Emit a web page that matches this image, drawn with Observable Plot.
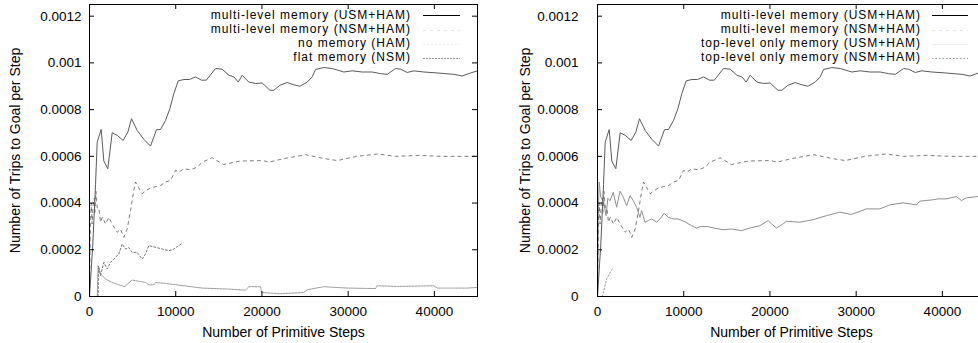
<!DOCTYPE html>
<html><head><meta charset="utf-8">
<script src="https://cdn.jsdelivr.net/npm/d3@7"></script>
<script src="https://cdn.jsdelivr.net/npm/@observablehq/plot@0.6"></script>
<style>
html,body{margin:0;padding:0;background:#fff;overflow:hidden;}
#wrap{position:relative;width:978px;height:343px;overflow:hidden;font-family:"Liberation Sans",Arial,sans-serif;}
.panel{position:absolute;top:0;}
.panel svg{max-width:none !important;display:block;}
.lg{position:absolute;font-size:12px;line-height:13px;letter-spacing:1px;white-space:nowrap;text-align:right;color:#000;}
.sw{position:absolute;}
</style></head>
<body><div id="wrap"></div>
<script>
// ---- tick values and labels ----
const xTicks = [0, 10000, 20000, 30000, 40000];
const yTicks = [0, 0.0002, 0.0004, 0.0006, 0.0008, 0.001, 0.0012];
const yTickLabels = ["0", "0.0002", "0.0004", "0.0006", "0.0008", "0.001", "0.0012"];
const xTitle = "Number of Primitive Steps";
const yTitle = "Number of Trips to Goal per Step";

// ---- series: [primitive steps, trips to goal per step] ----
const multiUsmHam = [[0,0],[380,0.00022],[700,0.00048],[890,0.00066],[1357,0.000715],[1660,0.00058],[2125,0.000547],[2630,0.000701],[3210,0.00069],[3900,0.000668],[4450,0.000704],[4870,0.000761],[5530,0.000711],[6300,0.000673],[7080,0.000644],[7770,0.000714],[8240,0.000715],[8820,0.000754],[9320,0.000804],[9790,0.000869],[10290,0.000923],[10940,0.000929],[11600,0.000929],[12300,0.00094],[13000,0.000926],[13540,0.000926],[14620,0.000976],[15390,0.000973],[16170,0.000947],[16750,0.00094],[17250,0.000918],[17710,0.000947],[18480,0.000918],[19260,0.000912],[20030,0.000914],[20920,0.000883],[21380,0.000883],[22080,0.000904],[22930,0.000916],[23630,0.000907],[24400,0.0009],[25250,0.000918],[25830,0.00094],[26220,0.000972],[27180,0.00098],[28150,0.000976],[29500,0.000961],[30470,0.000966],[31630,0.000961],[32790,0.000961],[33760,0.000954],[34530,0.000951],[35500,0.000976],[36080,0.000973],[36850,0.000959],[37620,0.000966],[38780,0.000961],[40330,0.000957],[42260,0.000951],[43230,0.000944],[44200,0.000957],[45000,0.000966]];

const multiNsmHam = [[0,0],[100,0.0003],[200,0.0004],[300,0.00031],[420,0.00039],[560,0.00042],[620,0.00036],[750,0.00045],[900,0.00038],[1080,0.00038],[1276,0.000318],[1500,0.00034],[1860,0.00031],[2240,0.000339],[2630,0.00031],[3210,0.000275],[3600,0.000289],[3980,0.000253],[4370,0.000289],[4760,0.000368],[5140,0.000454],[5340,0.00049],[5720,0.000465],[6110,0.00044],[6610,0.000454],[7080,0.000465],[7660,0.00047],[8240,0.000475],[8820,0.00049],[9400,0.000497],[9980,0.00054],[10360,0.000532],[10940,0.000547],[11720,0.000542],[12490,0.000554],[13070,0.000575],[14230,0.000594],[14620,0.000585],[15550,0.000565],[17500,0.00058],[20140,0.000582],[20800,0.000575],[22500,0.00059],[25060,0.000607],[27300,0.00059],[28730,0.000582],[31000,0.0006],[33430,0.00061],[35500,0.0006],[38200,0.000604],[41000,0.0006],[45000,0.0006]];

const noMemoryHam = [[1000,0],[1050,0.00013],[1276,0.00009],[1660,0.000146],[2050,0.000118],[2440,0.000146],[2820,0.00016],[3400,0.000182],[3790,0.000225],[4180,0.000203],[4560,0.00021],[4950,0.000189],[5530,0.000189],[6110,0.00016],[6500,0.000182],[6880,0.000218],[9200,0.000196],[9780,0.000203],[10360,0.000218],[10640,0.000225]];

const flatNsm = [[900,0],[1000,0.000132],[1276,0.000096],[1860,0.000075],[2630,0.00006],[3400,0.00005],[4100,0.000042],[4370,0.000053],[4950,0.00007],[5920,0.000064],[6500,0.00006],[6880,0.00005],[7460,0.00005],[7660,0.00006],[8820,0.000056],[10500,0.000048],[13070,0.000036],[16000,0.000032],[18100,0.000027],[18480,0.000042],[19840,0.000042],[19950,0.000017],[22160,0.000012],[24870,0.000017],[25250,0.000029],[27180,0.000042],[29900,0.000036],[33180,0.000034],[33370,0.000046],[35700,0.000043],[39940,0.000046],[40330,0.000036],[43810,0.000036],[45000,0.000039]];

const topOnlyUsmHam = [[0,0],[100,0.00037],[200,0.00049],[370,0.000425],[670,0.00041],[990,0.000346],[1200,0.00042],[1450,0.00041],[1830,0.000446],[2220,0.000382],[2610,0.000451],[2990,0.000425],[3380,0.000389],[3770,0.000432],[4150,0.00041],[4540,0.000382],[4920,0.000339],[5120,0.000368],[5500,0.000318],[5890,0.000325],[6280,0.000332],[6860,0.000318],[7240,0.000332],[7740,0.000356],[8200,0.000339],[8780,0.000332],[9360,0.000332],[10140,0.00032],[10910,0.000303],[11490,0.000293],[11880,0.000299],[12840,0.000299],[13610,0.000292],[14580,0.000286],[15550,0.000289],[16710,0.000282],[17670,0.000293],[18830,0.000303],[19790,0.000325],[20180,0.000311],[20760,0.000293],[21530,0.000311],[21920,0.000322],[23460,0.000318],[25010,0.000329],[26560,0.000346],[28100,0.000361],[29450,0.000351],[31190,0.000375],[32730,0.000375],[33890,0.000392],[35430,0.000401],[36980,0.000392],[37370,0.000408],[38910,0.000414],[39490,0.000418],[40460,0.000418],[41620,0.000428],[42200,0.000411],[42780,0.000422],[44120,0.000428],[45000,0.00043]];

const topOnlyNsmHam = [[560,0],[1060,0.000075],[1710,0.000118]];

// ---- legends ----
const leftLegend = ["multi-level memory (USM+HAM)", "multi-level memory (NSM+HAM)", "no memory (HAM)", "flat memory (NSM)"];
const rightLegend = ["multi-level memory (USM+HAM)", "multi-level memory (NSM+HAM)", "top-level only memory (USM+HAM)", "top-level only memory (NSM+HAM)"];

const styles = {
  usm: {stroke: "#5a5a5a", w: 1, dash: null, sample: "#000"},
  nsm: {stroke: "#444", w: 0.7, dash: "3,4", sample: "#e4e4e4"},
  ham: {stroke: "#7a7a7a", w: 1, dash: "2,2", sample: "#eee"},
  flat: {stroke: "#9a9a9a", w: 1, dash: "2,1", sample: "#999"},
  topU: {stroke: "#8f8f8f", w: 1, dash: null, sample: "#eee"},
  topN: {stroke: "#999", w: 1, dash: "1.5,2", sample: "#999"}
};

function makePanel(o) {
  const plotW = o.width - o.marginLeft - o.marginRight;
  const plotH = 343 - 4 - 47;
  return Plot.plot({
    width: o.width, height: 343,
    marginLeft: o.marginLeft, marginRight: o.marginRight, marginTop: 4, marginBottom: 47,
    x: {domain: [0, 45000]},
    y: {domain: [0, 0.00125]},
    style: {fontFamily: '"Liberation Sans", Arial, sans-serif', fontSize: "13.5px", background: "white", color: "black", overflow: "visible"},
    marks: [
      ...o.series.map(s => Plot.line(s.data, {x: d => d[0], y: d => d[1], stroke: s.st.stroke, strokeWidth: s.st.w, strokeDasharray: s.st.dash, clip: true})),
      Plot.frame({stroke: "black"}),
      Plot.tickY(yTicks, {y: d => d, insetRight: plotW - 5, stroke: "black"}),
      Plot.tickY(yTicks, {y: d => d, insetLeft: plotW - 5, stroke: "black"}),
      Plot.tickX(xTicks, {x: d => d, insetTop: plotH - 5, stroke: "black"}),
      Plot.tickX(xTicks, {x: d => d, insetBottom: plotH - 5, stroke: "black"}),
      Plot.axisY(yTicks, {tickSize: 0, tickPadding: o.yPad, label: null, tickFormat: d => yTickLabels[yTicks.indexOf(d)]}),
      Plot.axisX(xTicks, {tickSize: 0, tickPadding: 10, label: null, tickFormat: d => String(d)}),
      Plot.text([yTitle], {text: d => d, frameAnchor: "left", textAnchor: "middle", lineAnchor: "middle", dx: o.yLabelDx, rotate: -90, fontSize: 14}),
      Plot.text([xTitle], {text: d => d, frameAnchor: "bottom", lineAnchor: "middle", dy: 36, fontSize: 14})
    ]
  });
}

const wrap = document.getElementById("wrap");

function addPanel(left, width, plot) {
  const d = document.createElement("div");
  d.className = "panel";
  d.style.left = left + "px";
  d.style.width = width + "px";
  d.appendChild(plot);
  wrap.appendChild(d);
}

function addLegend(labels, sts, textRight, swLeft, swWidth) {
  const rowY = [15, 29.5, 43.5, 57.5];
  labels.forEach((lab, i) => {
    const t = document.createElement("div");
    t.className = "lg";
    t.style.left = "0px";
    t.style.width = textRight + "px";
    t.style.top = (rowY[i] - 6.5) + "px";
    t.textContent = lab;
    wrap.appendChild(t);
    const svg = d3.create("svg").attr("class", "sw").attr("width", swWidth).attr("height", 3)
      .style("left", swLeft + "px").style("top", (rowY[i] - 1) + "px");
    svg.append("line").attr("x1", 0).attr("x2", swWidth).attr("y1", 1.5).attr("y2", 1.5)
      .attr("stroke", sts[i].sample).attr("stroke-width", 1)
      .attr("stroke-dasharray", sts[i].dash || null);
    wrap.appendChild(svg.node());
  });
}

addPanel(0, 488, makePanel({
  width: 488, marginLeft: 89, marginRight: 11, yPad: 8, yLabelDx: -74,
  series: [
    {data: flatNsm, st: styles.flat},
    {data: noMemoryHam, st: styles.ham},
    {data: multiNsmHam, st: styles.nsm},
    {data: multiUsmHam, st: styles.usm}
  ]
}));

addPanel(488, 508, makePanel({
  width: 508, marginLeft: 109, marginRight: 11, yPad: 19, yLabelDx: -72,
  series: [
    {data: topOnlyNsmHam, st: styles.topN},
    {data: topOnlyUsmHam, st: styles.topU},
    {data: multiNsmHam, st: styles.nsm},
    {data: multiUsmHam, st: styles.usm}
  ]
}));

addLegend(leftLegend, [styles.usm, styles.nsm, styles.ham, styles.flat], 411, 423, 37);
addLegend(rightLegend, [styles.usm, styles.nsm, styles.topU, styles.topN], 921, 932, 36);
</script>
</body></html>
